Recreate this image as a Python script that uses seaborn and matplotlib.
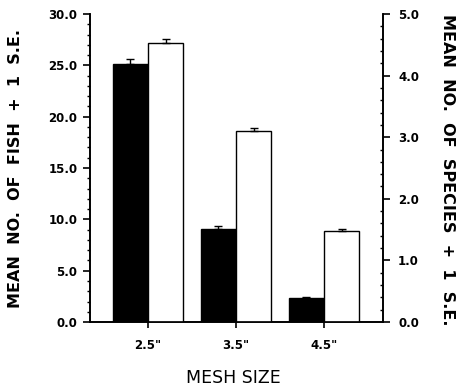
import numpy as np
import pandas as pd
import matplotlib
matplotlib.use("Agg")
import matplotlib.pyplot as plt
import seaborn as sns
from matplotlib.ticker import MultipleLocator, FormatStrFormatter

mesh = ['2.5"', '3.5"', '4.5"']
fish_mean = [25.1, 9.1, 2.3]
fish_se = [0.5, 0.3, 0.12]
species_mean = [4.53, 3.10, 1.47]
species_se = [0.06, 0.05, 0.04]
series_order = ["fish", "species"]

sns.set_style("ticks")
plt.rcParams['font.family'] = ['DejaVu Sans']
for k in ["text.color", "axes.labelcolor", "xtick.color", "ytick.color", "axes.edgecolor"]:
    plt.rcParams[k] = "black"

fig = plt.figure(figsize=(4.63, 3.88), dpi=100)
ax = fig.add_axes([0.194, 0.170, 0.633, 0.794])
ax2 = ax.twinx()

df_fish = pd.DataFrame({"mesh": mesh, "value": fish_mean, "series": "fish"})
df_sp = pd.DataFrame({"mesh": mesh, "value": species_mean, "series": "species"})
pal = {"fish": "black", "species": "white"}

sns.barplot(data=df_fish, x="mesh", y="value", hue="series", hue_order=series_order,
            palette=pal, edgecolor="black", linewidth=1.0, errorbar=None, dodge=True,
            legend=False, ax=ax)
sns.barplot(data=df_sp, x="mesh", y="value", hue="series", hue_order=series_order,
            palette=pal, edgecolor="black", linewidth=1.0, errorbar=None, dodge=True,
            legend=False, ax=ax2)

def bar_centers(a):
    ps = [p for p in a.patches if p.get_height() > 0]
    ps.sort(key=lambda p: p.get_x())
    return [p.get_x() + p.get_width() / 2 for p in ps]

xf = bar_centers(ax)
xs = bar_centers(ax2)
ax.errorbar(xf, fish_mean, yerr=[np.zeros(len(fish_se)), fish_se], fmt="none",
            ecolor="black", elinewidth=1.0, capsize=3, capthick=1.0)
ax2.errorbar(xs, species_mean, yerr=[np.zeros(len(species_se)), species_se], fmt="none",
             ecolor="black", elinewidth=1.0, capsize=3, capthick=1.0)

for a in (ax, ax2):
    a.set_xlim(-0.66, 2.67)
    a.spines["top"].set_visible(False)
    for s in a.spines.values():
        s.set_linewidth(1.2)

ax.set_ylim(0, 30)
ax.yaxis.set_major_locator(MultipleLocator(5))
ax.yaxis.set_minor_locator(MultipleLocator(1))
ax.yaxis.set_major_formatter(FormatStrFormatter("%.1f"))
ax2.set_ylim(0, 5)
ax2.yaxis.set_major_locator(MultipleLocator(1))
ax2.yaxis.set_minor_locator(MultipleLocator(0.2))
ax2.yaxis.set_major_formatter(FormatStrFormatter("%.1f"))

ax.tick_params(axis="y", which="major", direction="out", length=5, width=1.2, labelsize=8.5, pad=4)
ax.tick_params(axis="y", which="minor", direction="out", length=2.5, width=1.0)
ax.tick_params(axis="x", which="major", direction="out", length=4, width=1.2, labelsize=8.5, pad=8)
ax2.tick_params(axis="y", which="major", direction="out", length=5, width=1.2, labelsize=8.5, pad=6)
ax2.tick_params(axis="y", which="minor", direction="in", length=2.5, width=1.0)

for lab in ax.get_yticklabels() + ax.get_xticklabels() + ax2.get_yticklabels():
    lab.set_fontweight("bold")

ax.set_xlabel("")
ax.set_ylabel("")
ax2.set_ylabel("")
ax2.set_xlabel("")

fig.text(0.034, 0.567, "MEAN  NO.  OF  FISH  +  1  S.E.", rotation=90, ha="center", va="center",
         fontsize=11.5, fontweight="bold")
fig.text(0.966, 0.562, "MEAN  NO.  OF  SPECIES  +  1  S.E.", rotation=-90, ha="center", va="center",
         fontsize=11.5, fontweight="bold")
fig.text(0.505, 0.027, "MESH SIZE", ha="center", va="center", fontsize=12.5)

fig.savefig("out.png", dpi=100)
